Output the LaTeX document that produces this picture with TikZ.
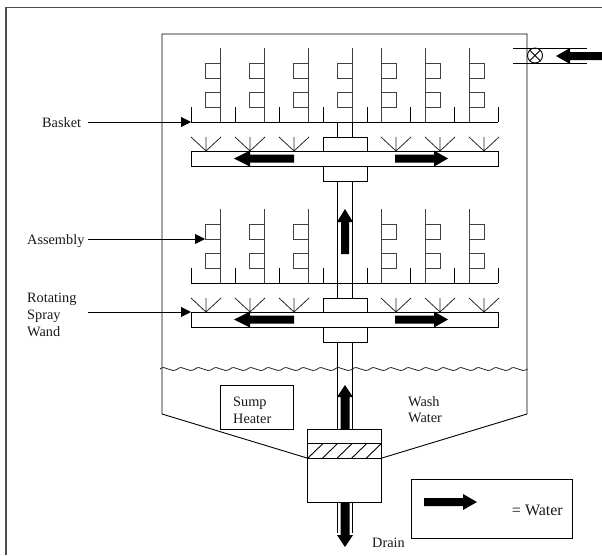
\documentclass[tikz,border=0pt]{standalone}
\usepackage{fontspec}
\setmainfont{Liberation Serif}
\usetikzlibrary{arrows.meta}
\tikzset{
  ln/.style={draw=black,line width=0.9pt},
  thin line/.style={draw=black!75,line width=0.9pt},
  lbl/.style={inner sep=0pt,align=left,font=\fontsize{14.3}{16.7}\selectfont,text=black!90},
  pointer/.style={draw=black,line width=0.9pt,-{Triangle[length=10pt,width=10pt]}},
  block/.style={fill=black,draw=none}
}
% horizontal block arrow: start x, shaft-end x, tip x, y, half shaft, half head
\newcommand{\harrowblock}[6]{\fill[block] (#1,#4-#5)--(#2,#4-#5)--(#2,#4-#6)--(#3,#4)--(#2,#4+#6)--(#2,#4+#5)--(#1,#4+#5)--cycle;}
% vertical block arrow: start y, shaft-end y, tip y, x, half shaft, half head
\newcommand{\varrowblock}[6]{\fill[block] (#4-#5,#1)--(#4-#5,#2)--(#4-#6,#2)--(#4,#3)--(#4+#6,#2)--(#4+#5,#2)--(#4+#5,#1)--cycle;}
\begin{document}
\begin{tikzpicture}[x=1pt,y=-1pt]
\useasboundingbox (0,0) rectangle (602,555);
% outer frame
\draw[draw=black!70,line width=1.5pt] (6,555)--(6,7.5)--(602,7.5);
% tank
\draw[ln] (382,458)--(527,414)--(527,34)--(162,34)--(162,414)--(307,458);
% inlet valve
\draw[ln] (513,48)--(587,48) (513,63)--(587,63);
\node[circle,draw=black,line width=0.9pt,minimum size=15pt,inner sep=0pt] (valve) at (535,55.5) {};
\draw[ln] (valve.north west)--(valve.south east) (valve.north east)--(valve.south west);
% upper basket and lower basket
\foreach \by/\tp in {122/48,283/209}{
  \draw[ln] (191,\by)--(498,\by);
  \foreach \x in {191,235,279,323,367,410,454,498}
    \draw[ln] (\x,\by)--(\x,\by-15);
  \foreach \x in {220,264,308,381,425,469}
    \draw[thin line] (\x,\by)--(\x,\tp);
  \foreach \x in {220,264,308}{
    \draw[thin line] (\x,\tp+15) rectangle (\x-15,\tp+30);
    \draw[thin line] (\x,\tp+44) rectangle (\x-15,\tp+59);
  }
  \foreach \x in {381,425,469}{
    \draw[thin line] (\x,\tp+15) rectangle (\x+15,\tp+30);
    \draw[thin line] (\x,\tp+44) rectangle (\x+15,\tp+59);
  }
}
\draw[thin line] (352,122)--(352,48);
\draw[thin line] (352,63) rectangle (337,78);
\draw[thin line] (352,92) rectangle (337,107);
% spray wands
\foreach \wy in {151,312}{
  \draw[ln] (191,\wy) rectangle (498,\wy+15);
  \draw[ln] (323,\wy-14) rectangle (367,\wy);
  \draw[ln] (323,\wy+15) rectangle (367,\wy+30);
  \foreach \x in {206,250,294,396,440,484}{
    \draw[draw=black!85,line width=0.8pt] (\x-15,\wy-14)--(\x,\wy)--(\x+15,\wy-14) (\x,\wy-14)--(\x,\wy);
  }
}
% shaft
\draw[ln] (337,122) rectangle (352,137);
\draw[ln] (337,181)--(337,298) (352,181)--(352,298);
\draw[ln] (337,342)--(337,429) (352,342)--(352,429);
% water surface
\draw[draw=black!85,line width=0.8pt] (160,369)
  \foreach \i in {0,...,20}{ .. controls (160+\i*17.5+5,364) and (160+\i*17.5+11,374) .. (160+\i*17.5+17.5,369) };
% sump heater
\node[ln,draw,minimum width=73pt,minimum height=44pt,inner sep=0pt] (heaterbox) at (256.5,407) {};
% filter/pump body
\draw[ln] (307,429) rectangle (381,502);
\draw[ln] (307,443.5)--(381,443.5) (307,458)--(381,458);
\foreach \i in {0,...,4}
  \draw[ln] (308+\i*14.6,458)--(323+\i*14.6,443.5);
% drain pipe
\draw[ln] (337,502)--(337,533) (352,502)--(352,533);
% legend
\node[draw=black,line width=0.9pt,minimum width=161pt,minimum height=59pt,inner sep=0pt] (legend) at (491.5,508.5) {};
% block arrows
\harrowblock{294}{250}{234}{158.5}{4}{8}
\harrowblock{395}{434}{448}{158.5}{4}{8}
\harrowblock{294}{250}{234}{319.5}{4}{8}
\harrowblock{395}{434}{448}{319.5}{4}{8}
\varrowblock{254}{222}{209}{345}{4}{8}
\varrowblock{429}{397}{385}{345}{4.5}{8}
\varrowblock{502}{535}{547}{345}{4.5}{8}
\harrowblock{602}{570}{556}{56}{4}{8}
\harrowblock{424}{463}{477}{502}{4}{8}
% labels
\node[lbl,anchor=base west] (basket) at (42,127) {Basket};
\node[lbl,anchor=base west] (assembly) at (27,244) {Assembly};
\node[lbl,anchor=west] (wand) at (27,315) {Rotating\\Spray\\Wand};
\node[lbl,anchor=west] (heaterlabel) at (233,410) {Sump\\Heater};
\node[lbl,anchor=west] (wash) at (408,409.5) {Wash\\Water};
\node[lbl,anchor=base west] (drain) at (372,547) {Drain};
\node[lbl,anchor=base east,font=\fontsize{16}{18}\selectfont] (eqwater) at (563,515) {= Water};
% pointers
\coordinate (basketfrom) at (88,122);
\coordinate (basketto) at (191,122);
\coordinate (assemblyfrom) at (88,239);
\coordinate (assemblyto) at (205,239);
\coordinate (wandfrom) at (88,312);
\coordinate (wandto) at (191,312);
\draw[pointer] (basketfrom)--(basketto);
\draw[pointer] (assemblyfrom)--(assemblyto);
\draw[pointer] (wandfrom)--(wandto);
\end{tikzpicture}
\end{document}
